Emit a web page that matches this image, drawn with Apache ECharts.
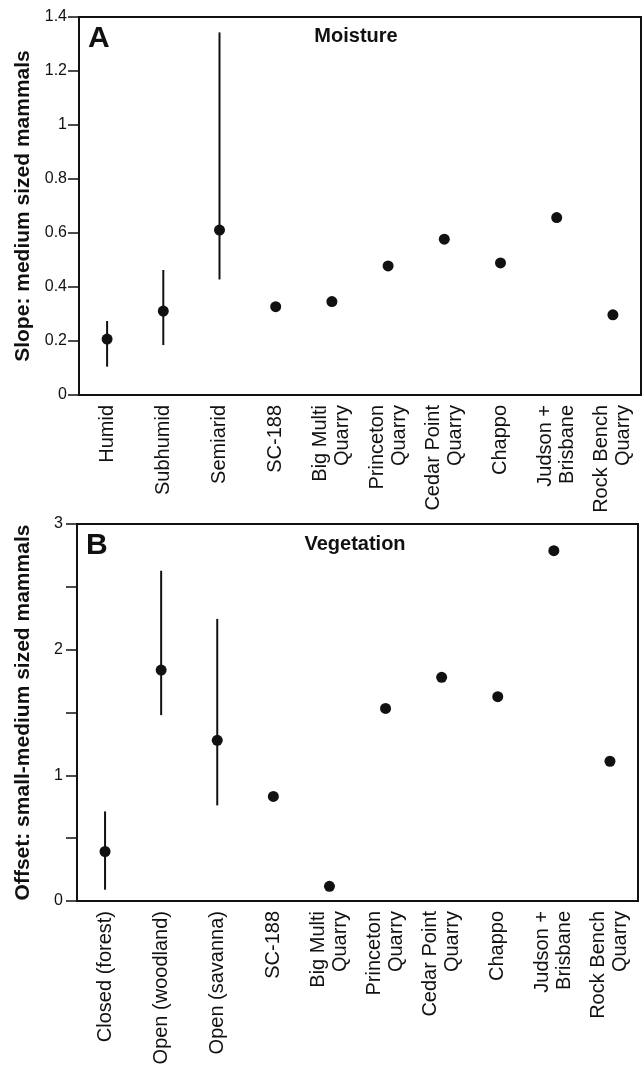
<!DOCTYPE html>
<html>
<head>
<meta charset="utf-8">
<script src="https://cdn.jsdelivr.net/npm/echarts@6/dist/echarts.min.js"></script>
<style>
html,body{margin:0;padding:0;background:#fff;}
#chart{width:644px;height:1068px;}
</style>
</head>
<body>
<div id="chart"></div>
<script>
// ---- Data ----
var moistureCategories = ['Humid', 'Subhumid', 'Semiarid', 'SC-188', 'Big Multi\nQuarry', 'Princeton\nQuarry', 'Cedar Point\nQuarry', 'Chappo', 'Judson +\nBrisbane', 'Rock Bench\nQuarry'];
var moistureSlope = [0.207, 0.311, 0.611, 0.327, 0.346, 0.478, 0.577, 0.489, 0.657, 0.297];
var moistureLow  = [0.105, 0.185, 0.428, null, null, null, null, null, null, null];
var moistureHigh = [0.274, 0.463, 1.343, null, null, null, null, null, null, null];
var moistureTicks = [0, 1.4, 0.2]; // min, max, interval

var vegetationCategories = ['Closed (forest)', 'Open (woodland)', 'Open (savanna)', 'SC-188', 'Big Multi\nQuarry', 'Princeton\nQuarry', 'Cedar Point\nQuarry', 'Chappo', 'Judson +\nBrisbane', 'Rock Bench\nQuarry'];
var vegetationOffset = [0.394, 1.838, 1.279, 0.832, 0.117, 1.532, 1.780, 1.626, 2.788, 1.112];
var vegetationLow  = [0.090, 1.479, 0.761, null, null, null, null, null, null, null];
var vegetationHigh = [0.713, 2.628, 2.245, null, null, null, null, null, null, null];
var vegetationTicks = [0, 3, 0.5];

var titleA = 'Moisture', titleB = 'Vegetation';
var yNameA = 'Slope: medium sized mammals';
var yNameB = 'Offset: small-medium sized mammals';

// ---- Helpers ----
var INK = '#111111';
var FONT = "'Liberation Sans', Arial, Helvetica, sans-serif";

function errData(lo, hi) {
  var out = [];
  for (var i = 0; i < lo.length; i++) {
    if (lo[i] != null && hi[i] != null) out.push([i, lo[i], hi[i]]);
  }
  return out;
}
function renderErr(params, api) {
  var x = api.value(0);
  var p1 = api.coord([x, api.value(1)]);
  var p2 = api.coord([x, api.value(2)]);
  return {
    type: 'line',
    shape: { x1: p1[0], y1: p1[1], x2: p2[0], y2: p2[1] },
    style: { stroke: INK, lineWidth: 2 }
  };
}
function xAxisCfg(cats, gi) {
  return {
    type: 'category', gridIndex: gi, data: cats, boundaryGap: true,
    axisLine: { show: true, lineStyle: { color: INK, width: 2 } },
    axisTick: { show: false },
    axisLabel: { interval: 0, rotate: 90, margin: 10, color: INK, fontFamily: FONT, fontSize: 20, lineHeight: 22 },
    splitLine: { show: false }
  };
}
function yAxisCfg(t, gi, name, margin, fmt) {
  return {
    type: 'value', gridIndex: gi, min: t[0], max: t[1], interval: t[2],
    name: name, nameLocation: 'middle', nameGap: 43,
    nameTextStyle: { color: INK, fontFamily: FONT, fontSize: 21, fontWeight: 'bold' },
    axisLine: { show: true, lineStyle: { color: INK, width: 2 } },
    axisTick: { show: true, inside: false, length: 11, lineStyle: { color: INK, width: 1.5 } },
    axisLabel: { margin: margin, color: INK, fontFamily: FONT, fontSize: 16, formatter: fmt },
    splitLine: { show: false }
  };
}

var chart = echarts.init(document.getElementById('chart'), null, { renderer: 'canvas' });
chart.setOption({
  animation: false,
  backgroundColor: '#fff',
  grid: [
    { left: 79, right: 3, top: 17, height: 378, show: true, borderColor: INK, borderWidth: 2, backgroundColor: 'transparent' },
    { left: 77, right: 6, top: 524, height: 377, show: true, borderColor: INK, borderWidth: 2, backgroundColor: 'transparent' }
  ],
  xAxis: [ xAxisCfg(moistureCategories, 0), xAxisCfg(vegetationCategories, 1) ],
  yAxis: [
    yAxisCfg(moistureTicks, 0, yNameA, 12, function (v) { return String(Math.round(v * 10) / 10); }),
    yAxisCfg(vegetationTicks, 1, yNameB, 14, function (v) { return Math.abs(v - Math.round(v)) < 1e-9 ? String(Math.round(v)) : ''; })
  ],
  series: [
    { type: 'custom', xAxisIndex: 0, yAxisIndex: 0, renderItem: renderErr, data: errData(moistureLow, moistureHigh), encode: { x: 0, y: [1, 2] }, z: 2 },
    { type: 'scatter', xAxisIndex: 0, yAxisIndex: 0, data: moistureSlope, symbol: 'circle', symbolSize: 11, itemStyle: { color: INK, opacity: 1 }, z: 3 },
    { type: 'custom', xAxisIndex: 1, yAxisIndex: 1, renderItem: renderErr, data: errData(vegetationLow, vegetationHigh), encode: { x: 0, y: [1, 2] }, z: 2 },
    { type: 'scatter', xAxisIndex: 1, yAxisIndex: 1, data: vegetationOffset, symbol: 'circle', symbolSize: 11, itemStyle: { color: INK, opacity: 1 }, z: 3 }
  ],
  graphic: [
    { type: 'text', left: 88, top: 24, style: { text: 'A', fill: INK, font: "bold 30px " + FONT } },
    { type: 'text', x: 356, y: 36, style: { text: titleA, fill: INK, font: "bold 20px " + FONT, textAlign: 'center', textVerticalAlign: 'middle' } },
    { type: 'text', left: 86, top: 531, style: { text: 'B', fill: INK, font: "bold 30px " + FONT } },
    { type: 'text', x: 355, y: 544, style: { text: titleB, fill: INK, font: "bold 20px " + FONT, textAlign: 'center', textVerticalAlign: 'middle' } }
  ]
});
</script>
</body>
</html>
